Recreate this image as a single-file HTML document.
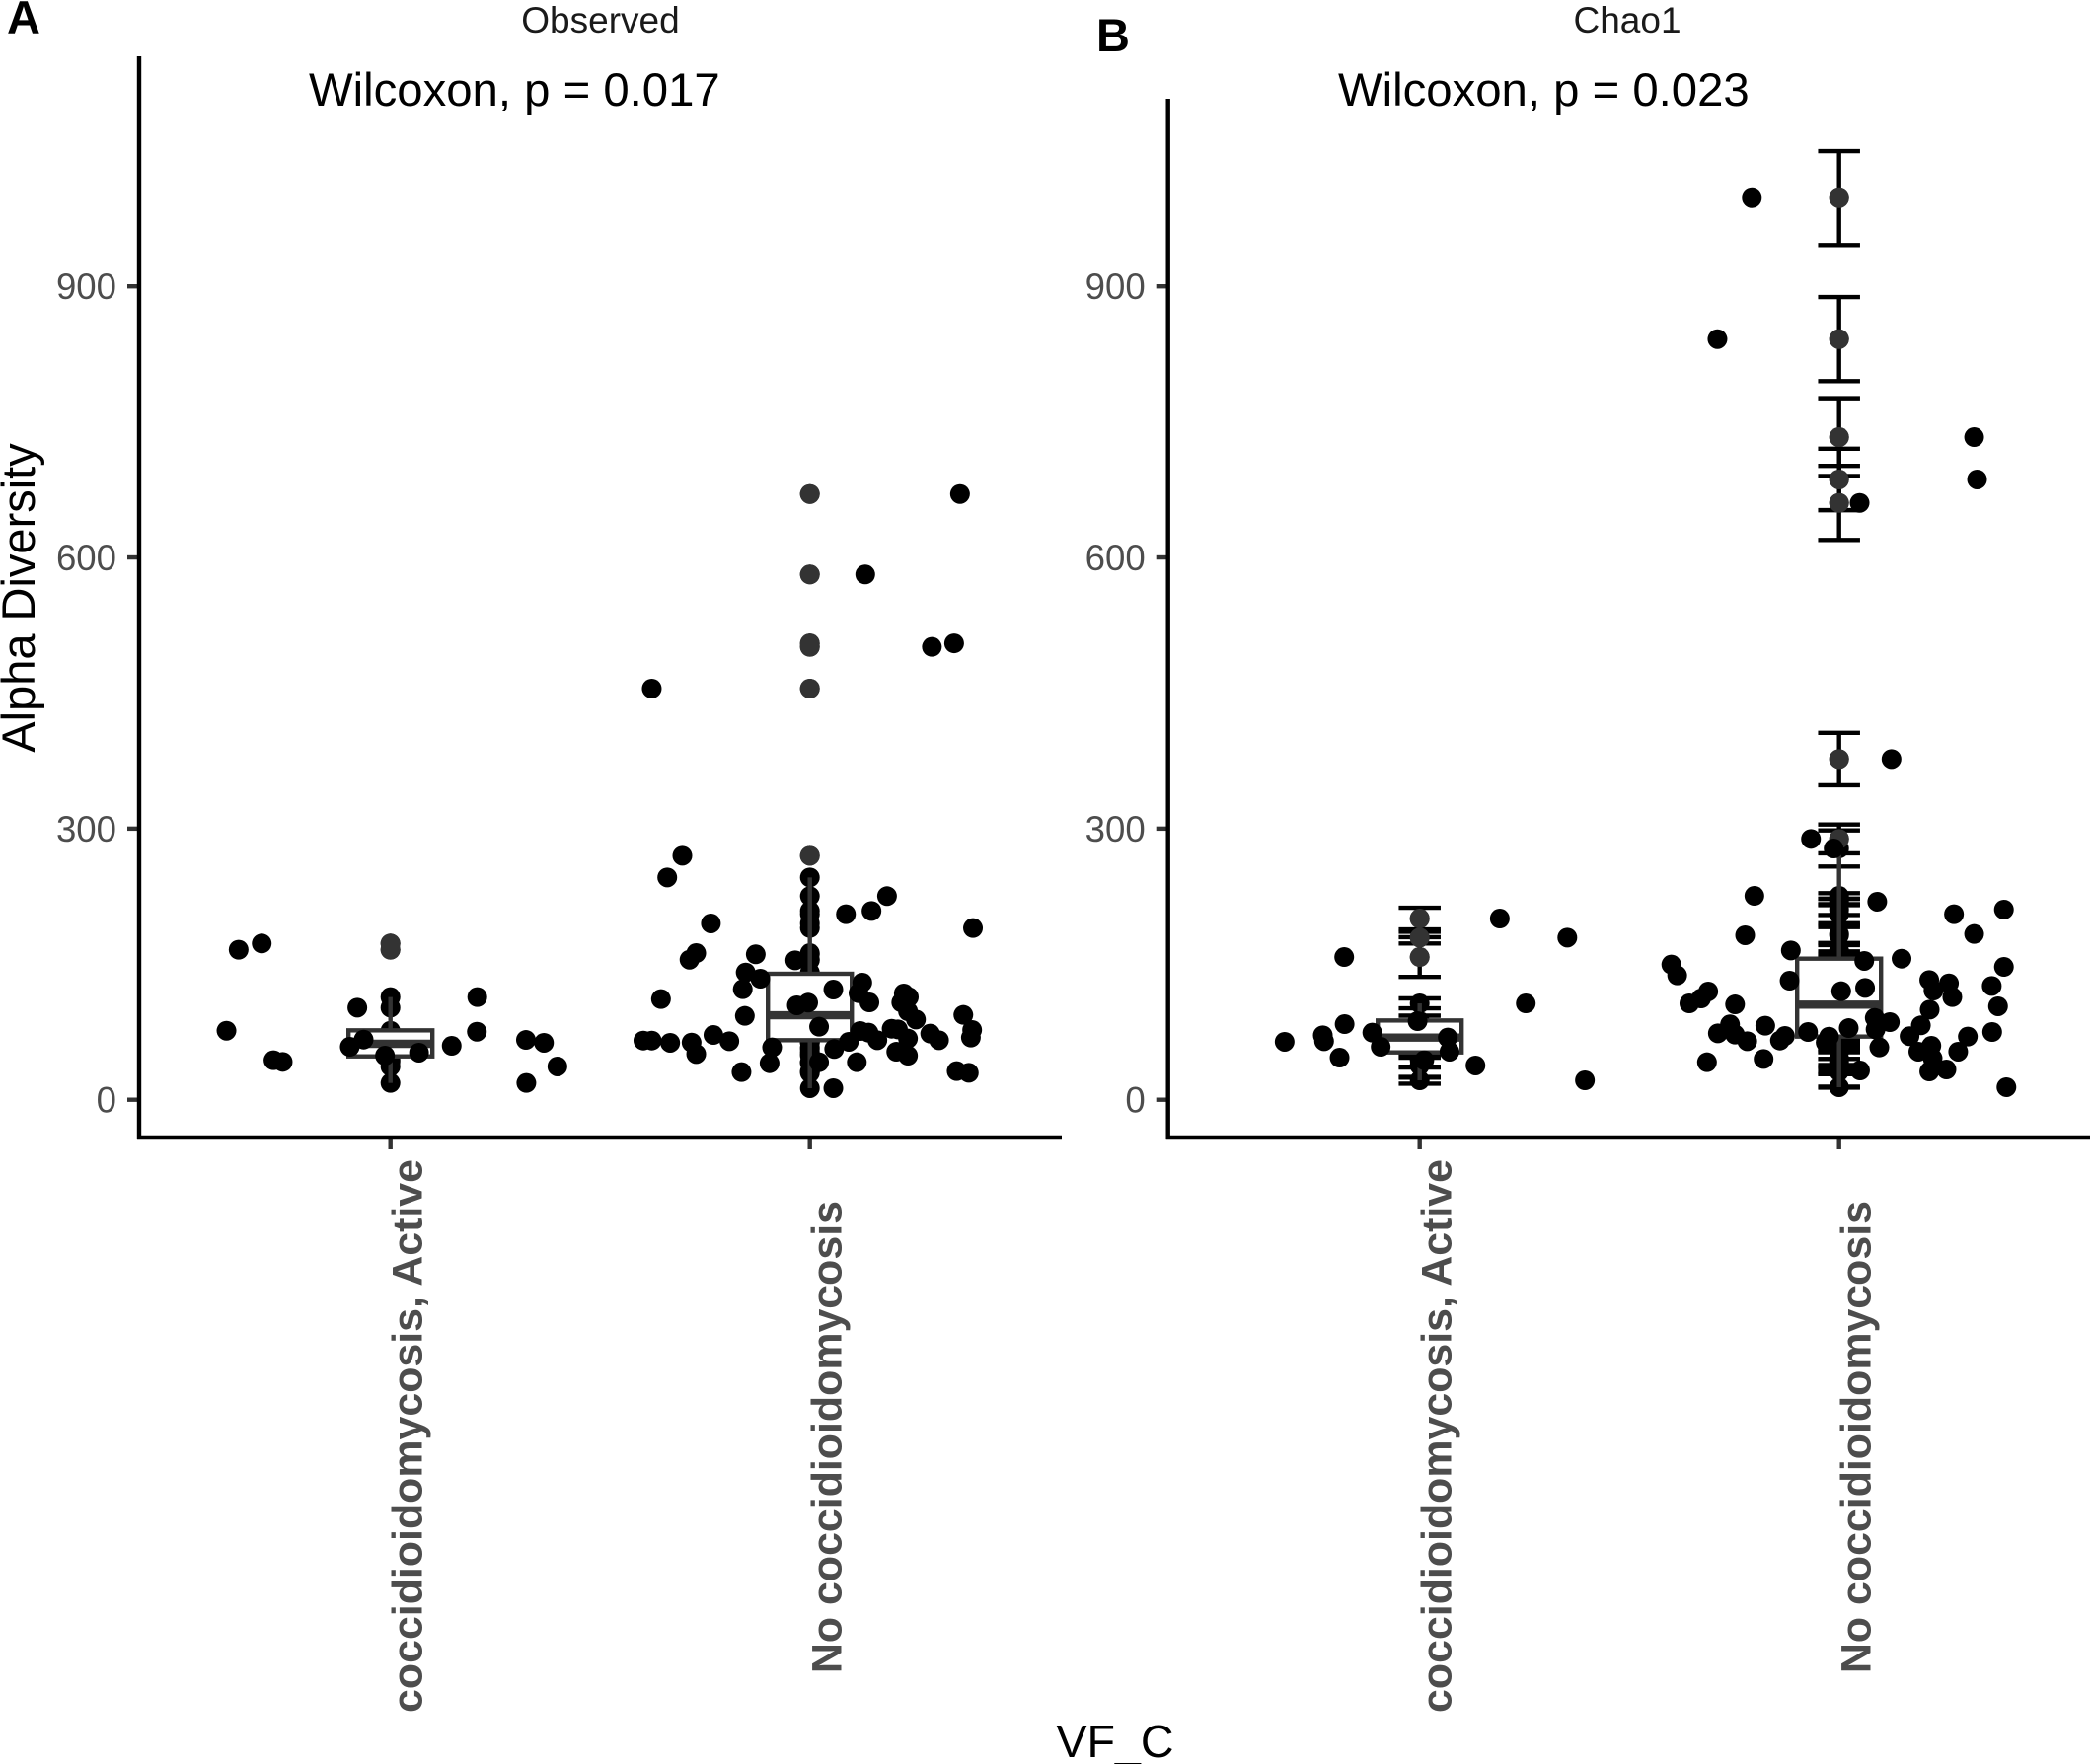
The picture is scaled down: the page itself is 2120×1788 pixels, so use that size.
<!DOCTYPE html>
<html lang="en">
<head>
<meta charset="utf-8">
<title>Alpha Diversity: Observed and Chao1</title>
<style>
html,body{margin:0;padding:0;background:#fff;}
svg{display:block;font-family:"Liberation Sans",Arial,sans-serif;}
</style>
</head>
<body>
<svg id="chart" xmlns="http://www.w3.org/2000/svg" width="2120" height="1788" viewBox="0 0 2120 1788">
<rect x="0" y="0" width="2120" height="1788" fill="#fff"/>
<text x="7" y="34" font-size="47" font-weight="bold" fill="#000">A</text>
<text x="1111" y="52" font-size="47" font-weight="bold" fill="#000">B</text>
<text x="608.5" y="33" font-size="37" text-anchor="middle" fill="#1a1a1a">Observed</text>
<text x="1649" y="33" font-size="37" text-anchor="middle" fill="#1a1a1a">Chao1</text>
<text x="313" y="107" font-size="47.3" fill="#000">Wilcoxon, p = 0.017</text>
<text x="1356" y="107" font-size="47.3" fill="#000">Wilcoxon, p = 0.023</text>
<text transform="translate(35,606) rotate(-90)" font-size="47" text-anchor="middle" fill="#000">Alpha Diversity</text>
<text x="1130" y="1781" font-size="46.6" text-anchor="middle" fill="#000">VF_C</text>
<g id="layer"></g>
</svg>
<script>
// ---- Chart data ----
var categories = ["coccidioidomycosis, Active", "No coccidioidomycosis"];
var yTickValues = [0, 300, 600, 900];

var observedActiveValues = [76.4,166.0,172.9,43.7,41.9,101.9,58.6,66.6,48.8,52.1,59.7,113.6,75.3,66.2,63.0,36.8,18.6];
var observedActiveJitter = [-0.391,-0.362,-0.307,-0.279,-0.257,-0.079,-0.097,-0.064,-0.013,0.068,0.146,0.207,0.206,0.323,0.366,0.398,0.324];
// box summaries: [lower whisker, q1, median, q3, upper whisker]
var observedActiveBox = [18.6,48.0,61.9,76.8,113.6];

var observedNoneValues = [270.0,246.0,195.1,162.3,155.0,160.9,154.3,140.8,133.9,122.3,111.4,92.8,65.5,65.5,63.0,63.3,50.6,71.7,64.8,57.9,40.4,30.6,104.5,107.4,121.9,80.8,205.3,208.9,225.3,190.0,129.6,117.9,107.7,117.6,113.6,107.7,97.9,88.8,76.1,74.3,65.9,64.1,56.1,41.5,41.5,78.6,77.9,67.7,53.1,48.8,73.2,65.9,93.9,77.2,68.8,31.7,29.8,12.8,670.2,581.2,501.1,505.0,454.9];
var observedNoneJitter = [-0.304,-0.340,-0.236,-0.271,-0.287,-0.129,-0.035,-0.153,-0.118,-0.160,-0.355,-0.155,-0.397,-0.377,-0.333,-0.282,-0.271,-0.230,-0.192,-0.090,-0.096,-0.163,-0.031,-0.004,0.056,0.022,0.086,0.147,0.184,0.389,0.125,0.116,0.142,0.224,0.236,0.218,0.234,0.253,0.120,0.140,0.161,0.093,0.058,0.112,0.022,0.195,0.210,0.234,0.206,0.234,0.287,0.308,0.366,0.387,0.384,0.350,0.379,0.056,0.358,0.132,0.291,0.344,-0.377];
var observedNoneBox = [12.8,65.9,93.5,139.4,246.0];

var chaoActiveValues = [64.1,71.3,64.8,83.7,46.6,157.9,74.3,58.6,68.8,53.2,37.9,200.5,179.4,106.6,21.5,87.0,43.7];
var chaoActiveJitter = [-0.322,-0.231,-0.228,-0.179,-0.191,-0.180,-0.113,-0.093,0.067,0.071,0.133,0.191,0.352,0.253,0.394,-0.005,0.011];
var chaoActiveError = [6,5,6,3,10,22,6,12,7,6,13.5,12,6.5,5.5,3.8,6,8];
var chaoActiveBox = [21.5,52.4,68.8,87.7,106.6];

var chaoNoneValues = [149.6,137.6,119.8,112.1,106.6,105.5,225.6,182.0,83.4,73.5,72.1,64.8,41.5,81.9,45.1,70.6,65.5,165.2,131.7,75.0,288.6,278.0,153.6,123.7,120.1,156.1,219.1,79.3,90.6,85.9,77.9,57.9,69.8,63.4,32.4,132.5,120.8,128.8,113.6,99.7,82.3,70.3,53.2,59.7,45.9,31.3,33.5,53.2,69.9,75.0,103.4,125.9,147.0,210.4,205.3,183.4,13.9,997.7,841.6,733.2,686.3,660.4,377.0];
var chaoNoneJitter = [-0.400,-0.386,-0.312,-0.329,-0.357,-0.248,-0.202,-0.224,-0.260,-0.289,-0.248,-0.219,-0.315,-0.176,-0.180,-0.129,-0.141,-0.115,-0.118,-0.074,-0.067,-0.013,0.060,0.062,0.005,0.149,0.091,0.023,0.085,0.121,0.087,0.096,-0.024,-0.032,0.050,0.215,0.225,0.262,0.270,0.216,0.195,0.168,0.189,0.220,0.223,0.215,0.256,0.284,0.307,0.365,0.379,0.364,0.393,0.393,0.274,0.322,0.399,-0.208,-0.290,0.322,0.329,0.049,0.125];
var chaoNoneError = [8,6,6,5,5,5,3,9,7,6,6,6,11,6,8,6,7,6,6,10,16,20,8,6,6,8,3,7,6,6,6,5,6,7,4,6,6,6,5,5,6,5,8,5,10,3,5,8,5,10,5,6,5,6,10,10,0.5,52,46.5,43,34,41,29];
var chaoNoneBox = [13.9,69.9,105.2,156.1,278.0];

// ---- Axis functions ----
function yScale(v){ return 1114.7 - v * 0.9161; }
function xScale(panel, cat, offset){ return panel.catX[cat] + offset * 425; }

var NS = "http://www.w3.org/2000/svg";
var layer = document.getElementById("layer");
var DOT_R = 10;
var BOX_HALF = 0.1;
var CAP_HALF = 0.05;
var DARK = "#333333";
var STROKE = 4.4;

function drawLine(parent, name, x1, y1, x2, y2, stroke, width){
  var el = document.createElementNS(NS, "line");
  
  
  el.setAttribute("x1", x1);
  el.setAttribute("y1", y1);
  el.setAttribute("x2", x2);
  el.setAttribute("y2", y2);
  el.setAttribute("stroke", stroke);
  el.setAttribute("stroke-width", width);
  parent.appendChild(el);
  return el;
}
function drawDot(parent, name, cx, cy, fill){
  var el = document.createElementNS(NS, "circle");
  
  
  el.setAttribute("cx", cx);
  el.setAttribute("cy", cy);
  el.setAttribute("r", DOT_R);
  el.setAttribute("fill", fill);
  parent.appendChild(el);
  return el;
}
function drawText(parent, name, content, attrs){
  var el = document.createElementNS(NS, "text");
  
  
  for (var k in attrs) { el.setAttribute(k, attrs[k]); }
  el.textContent = content;
  parent.appendChild(el);
  return el;
}
function makeGroup(parent, name){
  var g = document.createElementNS(NS, "g");
  
  
  parent.appendChild(g);
  return g;
}

function drawAxes(panel){
  var g = makeGroup(layer, panel.name + "-axes");
  yTickValues.forEach(function(t){
    var y = yScale(t);
    drawLine(g, "y-tick-" + t, panel.axisX - 12, y, panel.axisX, y, DARK, STROKE);
    drawText(g, "y-tick-label-" + t, String(t), {
      x: panel.axisX - 23, y: y + 13, "font-size": 36.6, "text-anchor": "end", fill: "#4d4d4d"
    });
  });
  categories.forEach(function(c, i){
    var x = xScale(panel, i, 0);
    drawLine(g, "x-tick-" + i, x, panel.axisY, x, panel.axisY + 12, DARK, STROKE);
    drawText(g, "x-tick-label-" + i, c, {
      transform: "translate(" + (x + 32) + "," + panel.labelEnd[i] + ") rotate(-90)",
      "font-size": 42.9, "font-weight": "bold", "text-anchor": "end", fill: "#4d4d4d"
    });
  });
  drawLine(g, "y-axis-line", panel.axisX, panel.axisTop, panel.axisX, panel.axisY + 2, "#000", STROKE);
  drawLine(g, "x-axis-line", panel.axisX - 2, panel.axisY, panel.axisRight, panel.axisY, "#000", STROKE);
}

function drawGroup(panel, cat, values, jitter, box, errors){
  var g = makeGroup(layer, panel.name + "-group-" + cat);
  var cx = xScale(panel, cat, 0);
  var halfBox = xScale(panel, cat, BOX_HALF) - cx;
  var halfCap = xScale(panel, cat, CAP_HALF) - cx;
  var lo = box[0], q1 = box[1], med = box[2], q3 = box[3], hi = box[4];

  // unjittered points
  values.forEach(function(v){
    drawDot(g, "center-point", cx, yScale(v), "#000");
  });

  // error bars
  if (errors) {
    values.forEach(function(v, i){
      var top = yScale(v + errors[i]), bottom = yScale(v - errors[i]);
      drawLine(g, "error-bar-stem", cx, top, cx, bottom, "#000", STROKE);
      drawLine(g, "error-bar-cap-top", cx - halfCap, top, cx + halfCap, top, "#000", STROKE);
      drawLine(g, "error-bar-cap-bottom", cx - halfCap, bottom, cx + halfCap, bottom, "#000", STROKE);
    });
  }

  // boxplot
  drawLine(g, "whisker-upper", cx, yScale(hi), cx, yScale(q3), DARK, STROKE);
  drawLine(g, "whisker-lower", cx, yScale(q1), cx, yScale(lo), DARK, STROKE);
  var rect = document.createElementNS(NS, "rect");
  
  
  rect.setAttribute("x", cx - halfBox);
  rect.setAttribute("y", yScale(q3));
  rect.setAttribute("width", halfBox * 2);
  rect.setAttribute("height", yScale(q1) - yScale(q3));
  rect.setAttribute("fill", "#fff");
  rect.setAttribute("stroke", DARK);
  rect.setAttribute("stroke-width", STROKE);
  g.appendChild(rect);
  drawLine(g, "box-median", cx - halfBox, yScale(med), cx + halfBox, yScale(med), DARK, 8.4);
  values.forEach(function(v){
    if (v > hi || v < lo) {
      drawDot(g, "boxplot-outlier", cx, yScale(v), DARK);
    }
  });

  // jittered points
  values.forEach(function(v, i){
    drawDot(g, "jitter-point", xScale(panel, cat, jitter[i]), yScale(v), "#000");
  });
}

var panelA = { name: "observed", catX: [395.7, 820.7], axisX: 141, axisTop: 57, axisY: 1153, axisRight: 1076, labelEnd: [1175, 1217] };
var panelB = { name: "chao1", catX: [1438.7, 1863.7], axisX: 1183.7, axisTop: 100, axisY: 1153, axisRight: 2118, labelEnd: [1175, 1217] };

drawGroup(panelA, 0, observedActiveValues, observedActiveJitter, observedActiveBox, null);
drawGroup(panelA, 1, observedNoneValues, observedNoneJitter, observedNoneBox, null);
drawGroup(panelB, 0, chaoActiveValues, chaoActiveJitter, chaoActiveBox, chaoActiveError);
drawGroup(panelB, 1, chaoNoneValues, chaoNoneJitter, chaoNoneBox, chaoNoneError);
drawAxes(panelA);
drawAxes(panelB);
</script>
</body>
</html>
